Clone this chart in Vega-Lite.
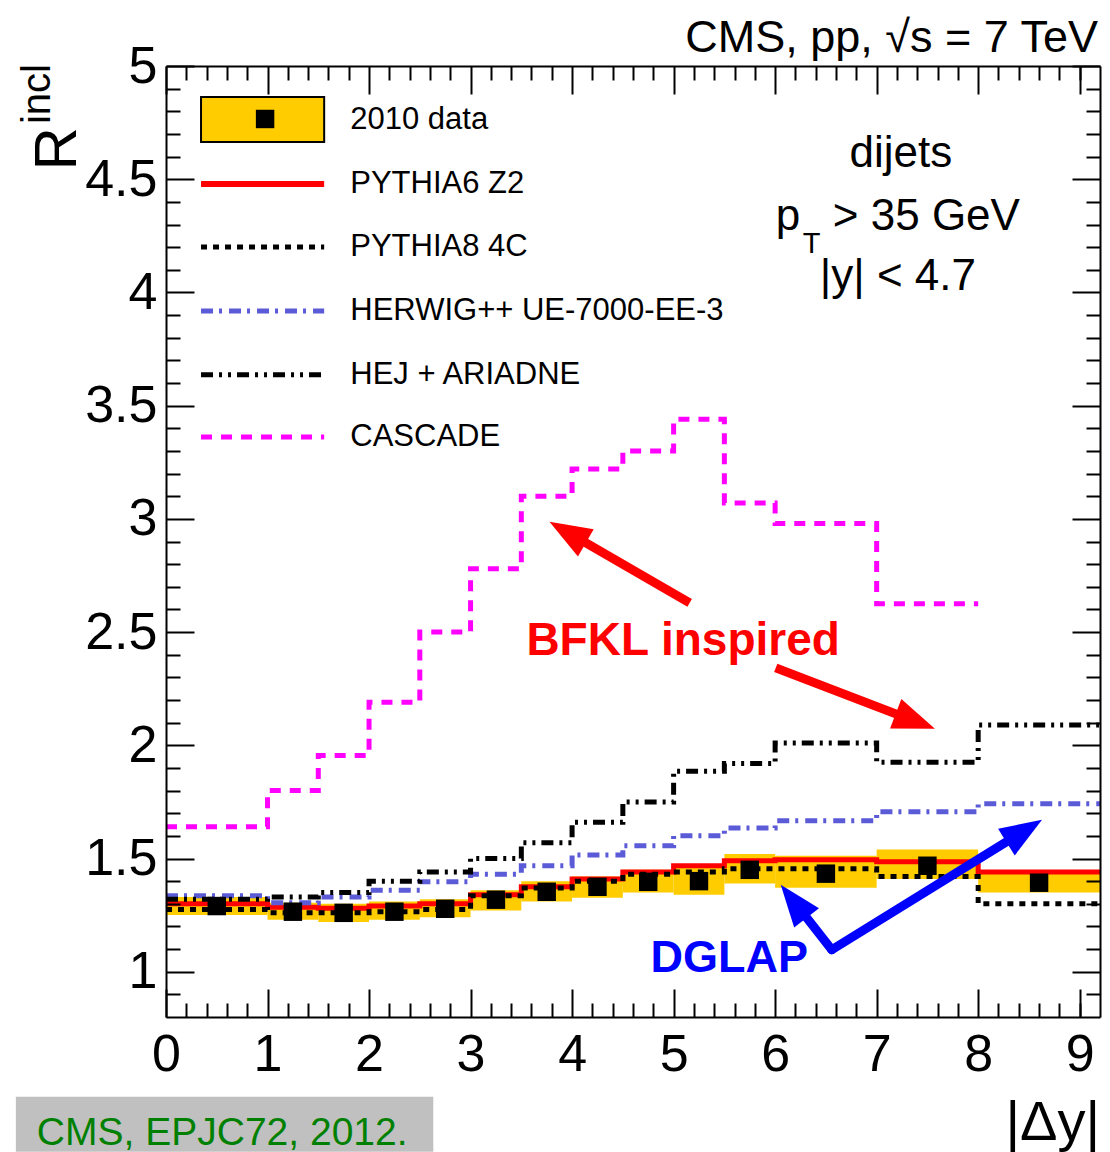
{
  "$schema": "https://vega.github.io/schema/vega-lite/v6.json",
  "width": 934,
  "height": 951,
  "autosize": "none",
  "padding": {"left": 166, "top": 66, "right": 10, "bottom": 135},
  "background": "white",
  "config": {"view": {"stroke": null}, "font": "Liberation Sans"},
  "datasets": {
    "bins": [
      {"lo": 0, "hi": 1, "dy": 0.5, "r": 1.29, "sys_lo": 1.25, "sys_hi": 1.33, "p6": 1.3, "p8": 1.275, "hw": 1.335, "hej": 1.32, "cas": 1.64},
      {"lo": 1, "hi": 1.5, "dy": 1.25, "r": 1.265, "sys_lo": 1.23, "sys_hi": 1.305, "p6": 1.285, "p8": 1.26, "hw": 1.305, "hej": 1.33, "cas": 1.8},
      {"lo": 1.5, "hi": 2, "dy": 1.75, "r": 1.26, "sys_lo": 1.22, "sys_hi": 1.3, "p6": 1.28, "p8": 1.26, "hw": 1.33, "hej": 1.35, "cas": 1.955},
      {"lo": 2, "hi": 2.5, "dy": 2.25, "r": 1.265, "sys_lo": 1.23, "sys_hi": 1.31, "p6": 1.29, "p8": 1.265, "hw": 1.36, "hej": 1.4, "cas": 2.19},
      {"lo": 2.5, "hi": 3, "dy": 2.75, "r": 1.278, "sys_lo": 1.24, "sys_hi": 1.32, "p6": 1.3, "p8": 1.275, "hw": 1.397, "hej": 1.44, "cas": 2.5},
      {"lo": 3, "hi": 3.5, "dy": 3.25, "r": 1.318, "sys_lo": 1.27, "sys_hi": 1.36, "p6": 1.34, "p8": 1.335, "hw": 1.43, "hej": 1.5, "cas": 2.78},
      {"lo": 3.5, "hi": 4, "dy": 3.75, "r": 1.353, "sys_lo": 1.31, "sys_hi": 1.4, "p6": 1.375, "p8": 1.37, "hw": 1.468, "hej": 1.57, "cas": 3.1},
      {"lo": 4, "hi": 4.5, "dy": 4.25, "r": 1.375, "sys_lo": 1.327, "sys_hi": 1.42, "p6": 1.41, "p8": 1.4, "hw": 1.516, "hej": 1.66, "cas": 3.22},
      {"lo": 4.5, "hi": 5, "dy": 4.75, "r": 1.397, "sys_lo": 1.35, "sys_hi": 1.45, "p6": 1.44, "p8": 1.43, "hw": 1.556, "hej": 1.75, "cas": 3.3},
      {"lo": 5, "hi": 5.5, "dy": 5.25, "r": 1.4, "sys_lo": 1.34, "sys_hi": 1.472, "p6": 1.468, "p8": 1.44, "hw": 1.6, "hej": 1.885, "cas": 3.44},
      {"lo": 5.5, "hi": 6, "dy": 5.75, "r": 1.45, "sys_lo": 1.39, "sys_hi": 1.52, "p6": 1.49, "p8": 1.455, "hw": 1.635, "hej": 1.92, "cas": 3.07},
      {"lo": 6, "hi": 7, "dy": 6.5, "r": 1.433, "sys_lo": 1.371, "sys_hi": 1.512, "p6": 1.494, "p8": 1.455, "hw": 1.667, "hej": 2.01, "cas": 2.98},
      {"lo": 7, "hi": 8, "dy": 7.5, "r": 1.468, "sys_lo": 1.41, "sys_hi": 1.54, "p6": 1.486, "p8": 1.42, "hw": 1.706, "hej": 1.925, "cas": 2.625},
      {"lo": 8, "hi": 9.2, "dy": 8.6, "r": 1.393, "sys_lo": 1.35, "sys_hi": 1.44, "p6": 1.44, "p8": 1.3, "hw": 1.742, "hej": 2.09, "cas": null}
    ]
  },
  "resolve": {"axis": {"x": "independent", "y": "independent"}},
  "layer": [
    {
      "data": {"name": "bins"},
      "mark": {"type": "rect", "color": "#ffcc00"},
      "encoding": {
        "x": {
          "field": "lo", "type": "quantitative",
          "scale": {"domain": [0, 9.2], "nice": false, "zero": false},
          "axis": {"orient": "bottom", "values": [0, 1, 2, 3, 4, 5, 6, 7, 8, 9], "format": "d", "title": null, "grid": false,
                   "tickSize": -28, "tickWidth": 2, "tickColor": "black", "domain": true, "domainColor": "black", "domainWidth": 2,
                   "labelFont": "Liberation Sans", "labelFontSize": 52, "labelColor": "black", "labelPadding": 40,
                   "labelFlush": false, "labelOverlap": false, "labelBound": false, "zindex": 1}
        },
        "x2": {"field": "hi"},
        "y": {
          "field": "sys_lo", "type": "quantitative",
          "scale": {"domain": [0.8, 5], "nice": false, "zero": false},
          "axis": {"orient": "left", "values": [1, 1.5, 2, 2.5, 3, 3.5, 4, 4.5, 5], "format": "~g", "title": null, "grid": false,
                   "tickSize": -28, "tickWidth": 2, "tickColor": "black", "domain": true, "domainColor": "black", "domainWidth": 2,
                   "labelFont": "Liberation Sans", "labelFontSize": 52, "labelColor": "black", "labelPadding": 37,
                   "labelFlush": false, "labelOverlap": false, "labelBound": false, "zindex": 1}
        },
        "y2": {"field": "sys_hi"}
      }
    },
    {
      "data": {"name": "bins"},
      "transform": [
        {"fold": ["p6", "p8", "hw", "hej", "cas"], "as": ["model", "R"]},
        {"filter": "isValid(datum.R)"},
        {"fold": ["lo", "hi"], "as": ["edge", "edge_x"]}
      ],
      "mark": {"type": "line", "strokeWidth": 5, "strokeCap": "butt", "strokeJoin": "miter"},
      "encoding": {
        "x": {
          "field": "edge_x", "type": "quantitative",
          "scale": {"domain": [0, 9.2], "nice": false, "zero": false},
          "axis": {"orient": "bottom", "values": [0.2, 0.4, 0.6, 0.8, 1.2, 1.4, 1.6, 1.8, 2.2, 2.4, 2.6, 2.8, 3.2, 3.4, 3.6, 3.8, 4.2, 4.4, 4.6, 4.8, 5.2, 5.4, 5.6, 5.8, 6.2, 6.4, 6.6, 6.8, 7.2, 7.4, 7.6, 7.8, 8.2, 8.4, 8.6, 8.8, 9.0],
                   "labels": false, "title": null, "grid": false, "domain": false,
                   "tickSize": -14, "tickWidth": 2, "tickColor": "black", "zindex": 1}
        },
        "y": {
          "field": "R", "type": "quantitative",
          "scale": {"domain": [0.8, 5], "nice": false, "zero": false},
          "axis": {"orient": "left", "values": [0.9, 1.1, 1.2, 1.3, 1.4, 1.6, 1.7, 1.8, 1.9, 2.1, 2.2, 2.3, 2.4, 2.6, 2.7, 2.8, 2.9, 3.1, 3.2, 3.3, 3.4, 3.6, 3.7, 3.8, 3.9, 4.1, 4.2, 4.3, 4.4, 4.6, 4.7, 4.8, 4.9],
                   "labels": false, "title": null, "grid": false, "domain": false,
                   "tickSize": -14, "tickWidth": 2, "tickColor": "black", "zindex": 1}
        },
        "color": {
          "field": "model", "type": "nominal", "legend": null,
          "scale": {"domain": ["p6", "p8", "hw", "hej", "cas"], "range": ["#ff0000", "#000000", "#5b5bd8", "#000000", "#ff00ff"]}
        },
        "strokeDash": {
          "field": "model", "type": "nominal", "legend": null,
          "scale": {"domain": ["p6", "p8", "hw", "hej", "cas"], "range": [[1, 0], [6, 6], [12, 6, 3, 7], [12, 6, 3, 6, 3, 6], [11, 9]]}
        },
        "order": [{"field": "lo", "type": "quantitative"}, {"field": "edge", "type": "ordinal", "sort": "descending"}]
      }
    },
    {
      "data": {"name": "bins"},
      "mark": {"type": "point", "shape": "square", "filled": true, "color": "black", "size": 340, "opacity": 1},
      "encoding": {
        "x": {
          "field": "dy", "type": "quantitative",
          "scale": {"domain": [0, 9.2], "nice": false, "zero": false},
          "axis": {"orient": "top", "values": [0, 1, 2, 3, 4, 5, 6, 7, 8, 9], "labels": false, "title": null, "grid": false,
                   "tickSize": -28, "tickWidth": 2, "tickColor": "black", "domain": true, "domainColor": "black", "domainWidth": 2, "zindex": 1}
        },
        "y": {
          "field": "r", "type": "quantitative",
          "scale": {"domain": [0.8, 5], "nice": false, "zero": false},
          "axis": {"orient": "right", "values": [1, 1.5, 2, 2.5, 3, 3.5, 4, 4.5, 5], "labels": false, "title": null, "grid": false,
                   "tickSize": -28, "tickWidth": 2, "tickColor": "black", "domain": true, "domainColor": "black", "domainWidth": 2, "zindex": 1}
        }
      }
    },
    {
      "data": {"name": "bins"},
      "mark": {"type": "point", "opacity": 0},
      "encoding": {
        "x": {
          "field": "dy", "type": "quantitative",
          "scale": {"domain": [0, 9.2], "nice": false, "zero": false},
          "axis": {"orient": "top", "values": [0.2, 0.4, 0.6, 0.8, 1.2, 1.4, 1.6, 1.8, 2.2, 2.4, 2.6, 2.8, 3.2, 3.4, 3.6, 3.8, 4.2, 4.4, 4.6, 4.8, 5.2, 5.4, 5.6, 5.8, 6.2, 6.4, 6.6, 6.8, 7.2, 7.4, 7.6, 7.8, 8.2, 8.4, 8.6, 8.8, 9.0],
                   "labels": false, "title": null, "grid": false, "domain": false,
                   "tickSize": -14, "tickWidth": 2, "tickColor": "black", "zindex": 1}
        },
        "y": {
          "field": "r", "type": "quantitative",
          "scale": {"domain": [0.8, 5], "nice": false, "zero": false},
          "axis": {"orient": "right", "values": [0.9, 1.1, 1.2, 1.3, 1.4, 1.6, 1.7, 1.8, 1.9, 2.1, 2.2, 2.3, 2.4, 2.6, 2.7, 2.8, 2.9, 3.1, 3.2, 3.3, 3.4, 3.6, 3.7, 3.8, 3.9, 4.1, 4.2, 4.3, 4.4, 4.6, 4.7, 4.8, 4.9],
                   "labels": false, "title": null, "grid": false, "domain": false,
                   "tickSize": -14, "tickWidth": 2, "tickColor": "black", "zindex": 1}
        }
      }
    },

    {
      "data": {"values": [{}]},
      "mark": {"type": "rect", "color": "#ffcc00", "stroke": "black", "strokeWidth": 2},
      "encoding": {
        "x": {"datum": 0.345, "type": "quantitative", "axis": null}, "x2": {"datum": 1.558},
        "y": {"datum": 4.863, "type": "quantitative", "axis": null}, "y2": {"datum": 4.664}
      }
    },
    {
      "data": {"values": [{}]},
      "mark": {"type": "point", "shape": "square", "filled": true, "color": "black", "size": 340, "opacity": 1},
      "encoding": {"x": {"datum": 0.976, "type": "quantitative", "axis": null}, "y": {"datum": 4.766, "type": "quantitative", "axis": null}}
    },
    {
      "data": {"values": [{}]},
      "mark": {"type": "rule", "color": "#ff0000", "strokeWidth": 6, "strokeCap": "butt"},
      "encoding": {"x": {"datum": 0.345, "type": "quantitative", "axis": null}, "x2": {"datum": 1.558}, "y": {"datum": 4.479, "type": "quantitative", "axis": null}}
    },
    {
      "data": {"values": [{}]},
      "mark": {"type": "rule", "color": "#000000", "strokeWidth": 5, "strokeCap": "butt", "strokeDash": [6, 6]},
      "encoding": {"x": {"datum": 0.345, "type": "quantitative", "axis": null}, "x2": {"datum": 1.558}, "y": {"datum": 4.201, "type": "quantitative", "axis": null}}
    },
    {
      "data": {"values": [{}]},
      "mark": {"type": "rule", "color": "#5b5bd8", "strokeWidth": 5, "strokeCap": "butt", "strokeDash": [12, 6, 3, 7]},
      "encoding": {"x": {"datum": 0.345, "type": "quantitative", "axis": null}, "x2": {"datum": 1.558}, "y": {"datum": 3.918, "type": "quantitative", "axis": null}}
    },
    {
      "data": {"values": [{}]},
      "mark": {"type": "rule", "color": "#000000", "strokeWidth": 5, "strokeCap": "butt", "strokeDash": [12, 6, 3, 6, 3, 6]},
      "encoding": {"x": {"datum": 0.345, "type": "quantitative", "axis": null}, "x2": {"datum": 1.558}, "y": {"datum": 3.636, "type": "quantitative", "axis": null}}
    },
    {
      "data": {"values": [{}]},
      "mark": {"type": "rule", "color": "#ff00ff", "strokeWidth": 5, "strokeCap": "butt", "strokeDash": [11, 9]},
      "encoding": {"x": {"datum": 0.345, "type": "quantitative", "axis": null}, "x2": {"datum": 1.558}, "y": {"datum": 3.362, "type": "quantitative", "axis": null}}
    },
    {
      "data": {"values": [{}]},
      "mark": {"type": "text", "text": "2010 data", "align": "left", "baseline": "middle", "fontSize": 31, "color": "black"},
      "encoding": {"x": {"datum": 1.815, "type": "quantitative", "axis": null}, "y": {"datum": 4.762, "type": "quantitative", "axis": null}}
    },
    {
      "data": {"values": [{}]},
      "mark": {"type": "text", "text": "PYTHIA6 Z2", "align": "left", "baseline": "middle", "fontSize": 31, "color": "black"},
      "encoding": {"x": {"datum": 1.815, "type": "quantitative", "axis": null}, "y": {"datum": 4.479, "type": "quantitative", "axis": null}}
    },
    {
      "data": {"values": [{}]},
      "mark": {"type": "text", "text": "PYTHIA8 4C", "align": "left", "baseline": "middle", "fontSize": 31, "color": "black"},
      "encoding": {"x": {"datum": 1.815, "type": "quantitative", "axis": null}, "y": {"datum": 4.201, "type": "quantitative", "axis": null}}
    },
    {
      "data": {"values": [{}]},
      "mark": {"type": "text", "text": "HERWIG++ UE-7000-EE-3", "align": "left", "baseline": "middle", "fontSize": 31, "color": "black"},
      "encoding": {"x": {"datum": 1.815, "type": "quantitative", "axis": null}, "y": {"datum": 3.918, "type": "quantitative", "axis": null}}
    },
    {
      "data": {"values": [{}]},
      "mark": {"type": "text", "text": "HEJ + ARIADNE", "align": "left", "baseline": "middle", "fontSize": 31, "color": "black"},
      "encoding": {"x": {"datum": 1.815, "type": "quantitative", "axis": null}, "y": {"datum": 3.636, "type": "quantitative", "axis": null}}
    },
    {
      "data": {"values": [{}]},
      "mark": {"type": "text", "text": "CASCADE", "align": "left", "baseline": "middle", "fontSize": 31, "color": "black"},
      "encoding": {"x": {"datum": 1.815, "type": "quantitative", "axis": null}, "y": {"datum": 3.362, "type": "quantitative", "axis": null}}
    },

    {
      "data": {"values": [{}]},
      "mark": {"type": "text", "text": "dijets", "align": "center", "baseline": "alphabetic", "fontSize": 44, "color": "black"},
      "encoding": {"x": {"datum": 7.239, "type": "quantitative", "axis": null}, "y": {"datum": 4.554, "type": "quantitative", "axis": null}}
    },
    {
      "data": {"values": [{}]},
      "mark": {"type": "text", "text": "p", "align": "left", "baseline": "alphabetic", "fontSize": 44, "color": "black"},
      "encoding": {"x": {"datum": 6.006, "type": "quantitative", "axis": null}, "y": {"datum": 4.276, "type": "quantitative", "axis": null}}
    },
    {
      "data": {"values": [{}]},
      "mark": {"type": "text", "text": "T", "align": "left", "baseline": "alphabetic", "fontSize": 29, "color": "black"},
      "encoding": {"x": {"datum": 6.272, "type": "quantitative", "axis": null}, "y": {"datum": 4.174, "type": "quantitative", "axis": null}}
    },
    {
      "data": {"values": [{}]},
      "mark": {"type": "text", "text": "> 35 GeV", "align": "left", "baseline": "alphabetic", "fontSize": 44, "color": "black"},
      "encoding": {"x": {"datum": 6.568, "type": "quantitative", "axis": null}, "y": {"datum": 4.276, "type": "quantitative", "axis": null}}
    },
    {
      "data": {"values": [{}]},
      "mark": {"type": "text", "text": "|y| < 4.7", "align": "center", "baseline": "alphabetic", "fontSize": 44, "color": "black"},
      "encoding": {"x": {"datum": 7.209, "type": "quantitative", "axis": null}, "y": {"datum": 4.011, "type": "quantitative", "axis": null}}
    },
    {
      "data": {"values": [{}]},
      "mark": {"type": "text", "text": "CMS, pp, √s = 7 TeV", "align": "right", "baseline": "alphabetic", "fontSize": 45, "color": "black"},
      "encoding": {"x": {"datum": 9.18, "type": "quantitative", "axis": null}, "y": {"datum": 5.062, "type": "quantitative", "axis": null}}
    },
    {
      "data": {"values": [{}]},
      "mark": {"type": "text", "text": "R", "align": "center", "baseline": "middle", "fontSize": 60, "angle": 270, "color": "black"},
      "encoding": {"x": {"datum": -1.06, "type": "quantitative", "axis": null}, "y": {"datum": 4.634, "type": "quantitative", "axis": null}}
    },
    {
      "data": {"values": [{}]},
      "mark": {"type": "text", "text": "incl", "align": "center", "baseline": "middle", "fontSize": 40, "angle": 270, "color": "black"},
      "encoding": {"x": {"datum": -1.262, "type": "quantitative", "axis": null}, "y": {"datum": 4.876, "type": "quantitative", "axis": null}}
    },
    {
      "data": {"values": [{}]},
      "mark": {"type": "text", "text": "|Δy|", "align": "right", "baseline": "alphabetic", "fontSize": 56, "color": "black"},
      "encoding": {"x": {"datum": 9.2, "type": "quantitative", "axis": null}, "y": {"datum": 0.258, "type": "quantitative", "axis": null}}
    },
    {
      "data": {"values": [{}]},
      "mark": {"type": "rect", "color": "#c0c0c0"},
      "encoding": {
        "x": {"datum": -1.479, "type": "quantitative", "axis": null}, "x2": {"datum": 2.633},
        "y": {"datum": 0.448, "type": "quantitative", "axis": null}, "y2": {"datum": 0.205}
      }
    },
    {
      "data": {"values": [{}]},
      "mark": {"type": "text", "text": "CMS, EPJC72, 2012.", "align": "left", "baseline": "alphabetic", "fontSize": 39, "font": "Liberation Sans", "color": "#008000"},
      "encoding": {"x": {"datum": -1.272, "type": "quantitative", "axis": null}, "y": {"datum": 0.236, "type": "quantitative", "axis": null}}
    },

    {
      "data": {"values": [{}]},
      "mark": {"type": "text", "text": "BFKL inspired", "align": "center", "baseline": "alphabetic", "fontSize": 46, "fontWeight": "bold", "color": "#ff0000"},
      "encoding": {"x": {"datum": 5.094, "type": "quantitative", "axis": null}, "y": {"datum": 2.399, "type": "quantitative", "axis": null}}
    },
    {
      "data": {"values": [{}]},
      "mark": {"type": "text", "text": "DGLAP", "align": "center", "baseline": "alphabetic", "fontSize": 45, "fontWeight": "bold", "color": "#0000ff"},
      "encoding": {"x": {"datum": 5.547, "type": "quantitative", "axis": null}, "y": {"datum": 1.0, "type": "quantitative", "axis": null}}
    },
    {
      "data": {"values": [{}]},
      "mark": {"type": "rule", "color": "#ff0000", "strokeWidth": 9, "strokeCap": "butt"},
      "encoding": {
        "x": {"datum": 5.158, "type": "quantitative", "axis": null}, "x2": {"datum": 4.034},
        "y": {"datum": 2.629, "type": "quantitative", "axis": null}, "y2": {"datum": 2.92}
      }
    },
    {
      "data": {"values": [{}]},
      "mark": {"type": "point", "shape": "M0,0L0.75,2L-0.75,2Z", "filled": true, "color": "#ff0000", "opacity": 1, "size": 1764, "angle": 300},
      "encoding": {"x": {"datum": 3.777, "type": "quantitative", "axis": null}, "y": {"datum": 2.987, "type": "quantitative", "axis": null}}
    },
    {
      "data": {"values": [{}]},
      "mark": {"type": "rule", "color": "#ff0000", "strokeWidth": 9, "strokeCap": "butt"},
      "encoding": {
        "x": {"datum": 6.006, "type": "quantitative", "axis": null}, "x2": {"datum": 7.298},
        "y": {"datum": 2.342, "type": "quantitative", "axis": null}, "y2": {"datum": 2.12}
      }
    },
    {
      "data": {"values": [{}]},
      "mark": {"type": "point", "shape": "M0,0L0.75,2L-0.75,2Z", "filled": true, "color": "#ff0000", "opacity": 1, "size": 1764, "angle": 111},
      "encoding": {"x": {"datum": 7.574, "type": "quantitative", "axis": null}, "y": {"datum": 2.073, "type": "quantitative", "axis": null}}
    },
    {
      "data": {"values": [{}]},
      "mark": {"type": "rule", "color": "#0000ff", "strokeWidth": 9, "strokeCap": "round"},
      "encoding": {
        "x": {"datum": 6.558, "type": "quantitative", "axis": null}, "x2": {"datum": 6.238},
        "y": {"datum": 1.097, "type": "quantitative", "axis": null}, "y2": {"datum": 1.28}
      }
    },
    {
      "data": {"values": [{}]},
      "mark": {"type": "point", "shape": "M0,0L0.75,2L-0.75,2Z", "filled": true, "color": "#0000ff", "opacity": 1, "size": 1764, "angle": 322},
      "encoding": {"x": {"datum": 6.055, "type": "quantitative", "axis": null}, "y": {"datum": 1.384, "type": "quantitative", "axis": null}}
    },
    {
      "data": {"values": [{}]},
      "mark": {"type": "rule", "color": "#0000ff", "strokeWidth": 9, "strokeCap": "round"},
      "encoding": {
        "x": {"datum": 6.558, "type": "quantitative", "axis": null}, "x2": {"datum": 8.378},
        "y": {"datum": 1.097, "type": "quantitative", "axis": null}, "y2": {"datum": 1.601}
      }
    },
    {
      "data": {"values": [{}]},
      "mark": {"type": "point", "shape": "M0,0L0.75,2L-0.75,2Z", "filled": true, "color": "#0000ff", "opacity": 1, "size": 1764, "angle": 58},
      "encoding": {"x": {"datum": 8.629, "type": "quantitative", "axis": null}, "y": {"datum": 1.671, "type": "quantitative", "axis": null}}
    }
  ]
}
